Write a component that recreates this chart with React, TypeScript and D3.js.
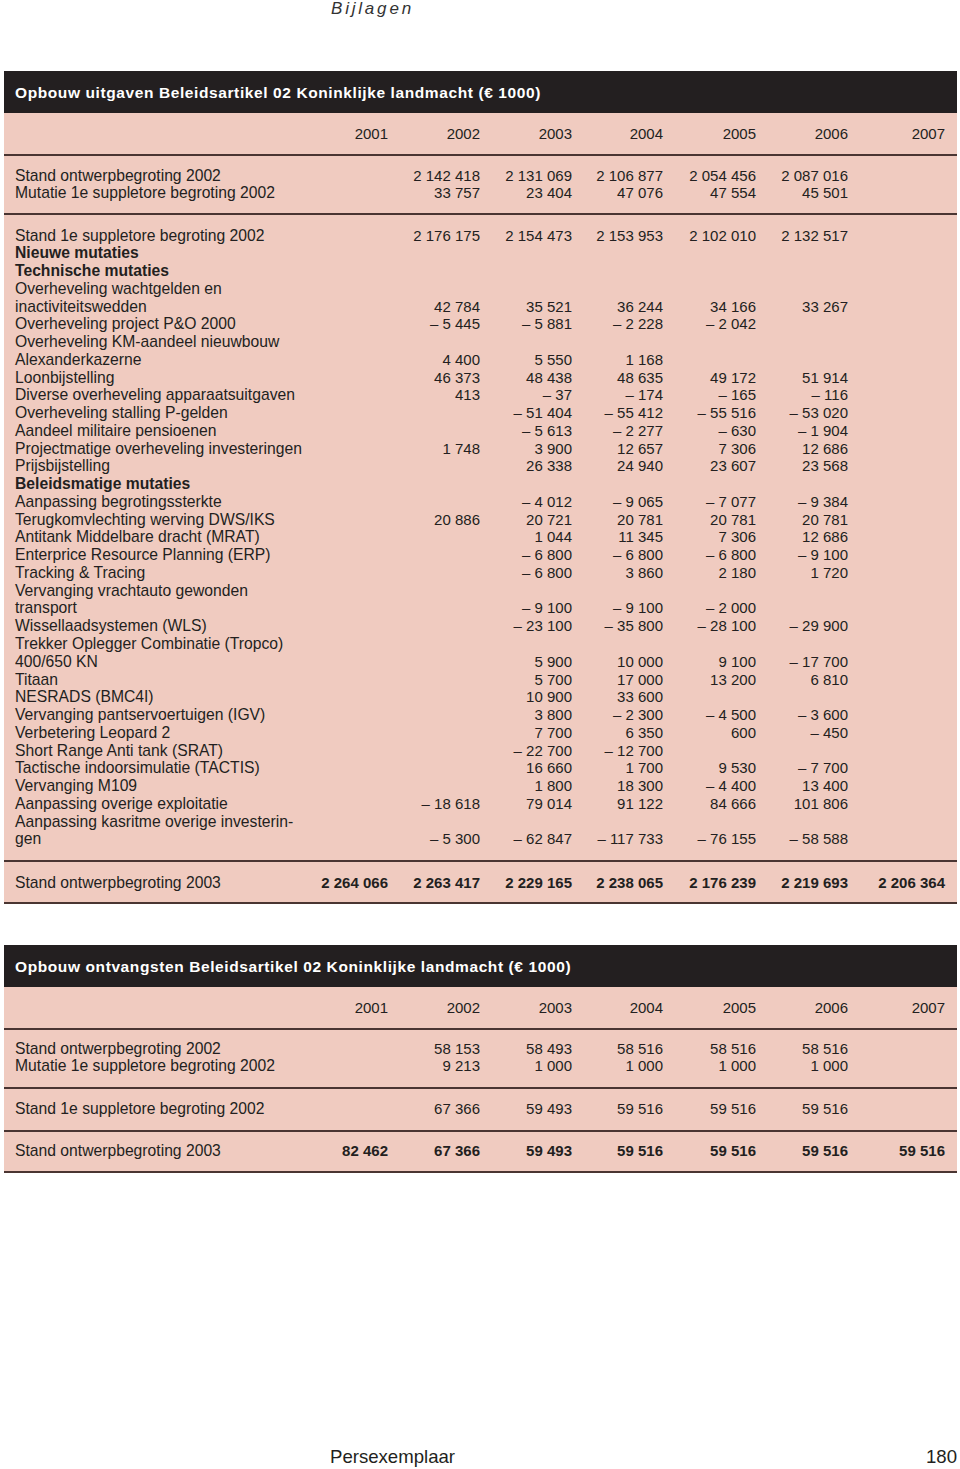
import React, { useRef, useEffect } from 'react';
import * as d3 from 'd3';

const years = ['2001', '2002', '2003', '2004', '2005', '2006', '2007'];

const uitgavenTitle = 'Opbouw uitgaven Beleidsartikel 02 Koninklijke landmacht (€ 1000)';
const ontvangstenTitle = 'Opbouw ontvangsten Beleidsartikel 02 Koninklijke landmacht (€ 1000)';

const uitgavenTopLabels = ['Stand ontwerpbegroting 2002', 'Mutatie 1e suppletore begroting 2002'];
const uitgavenTopValues = [
  [null, 2142418, 2131069, 2106877, 2054456, 2087016, null],
  [null, 33757, 23404, 47076, 47554, 45501, null],
];

const mutatieLabels = [
  'Stand 1e suppletore begroting 2002',
  'Nieuwe mutaties',
  'Technische mutaties',
  'Overheveling wachtgelden en',
  'inactiviteitswedden',
  'Overheveling project P&O 2000',
  'Overheveling KM-aandeel nieuwbouw',
  'Alexanderkazerne',
  'Loonbijstelling',
  'Diverse overheveling apparaatsuitgaven',
  'Overheveling stalling P-gelden',
  'Aandeel militaire pensioenen',
  'Projectmatige overheveling investeringen',
  'Prijsbijstelling',
  'Beleidsmatige mutaties',
  'Aanpassing begrotingssterkte',
  'Terugkomvlechting werving DWS/IKS',
  'Antitank Middelbare dracht (MRAT)',
  'Enterprice Resource Planning (ERP)',
  'Tracking & Tracing',
  'Vervanging vrachtauto gewonden',
  'transport',
  'Wissellaadsystemen (WLS)',
  'Trekker Oplegger Combinatie (Tropco)',
  '400/650 KN',
  'Titaan',
  'NESRADS (BMC4I)',
  'Vervanging pantservoertuigen (IGV)',
  'Verbetering Leopard 2',
  'Short Range Anti tank (SRAT)',
  'Tactische indoorsimulatie (TACTIS)',
  'Vervanging M109',
  'Aanpassing overige exploitatie',
  'Aanpassing kasritme overige investerin-',
  'gen',
];

const mutatieValues = [
  [null, 2176175, 2154473, 2153953, 2102010, 2132517, null],
  [],
  [],
  [],
  [null, 42784, 35521, 36244, 34166, 33267, null],
  [null, -5445, -5881, -2228, -2042, null, null],
  [],
  [null, 4400, 5550, 1168, null, null, null],
  [null, 46373, 48438, 48635, 49172, 51914, null],
  [null, 413, -37, -174, -165, -116, null],
  [null, null, -51404, -55412, -55516, -53020, null],
  [null, null, -5613, -2277, -630, -1904, null],
  [null, 1748, 3900, 12657, 7306, 12686, null],
  [null, null, 26338, 24940, 23607, 23568, null],
  [],
  [null, null, -4012, -9065, -7077, -9384, null],
  [null, 20886, 20721, 20781, 20781, 20781, null],
  [null, null, 1044, 11345, 7306, 12686, null],
  [null, null, -6800, -6800, -6800, -9100, null],
  [null, null, -6800, 3860, 2180, 1720, null],
  [],
  [null, null, -9100, -9100, -2000, null, null],
  [null, null, -23100, -35800, -28100, -29900, null],
  [],
  [null, null, 5900, 10000, 9100, -17700, null],
  [null, null, 5700, 17000, 13200, 6810, null],
  [null, null, 10900, 33600, null, null, null],
  [null, null, 3800, -2300, -4500, -3600, null],
  [null, null, 7700, 6350, 600, -450, null],
  [null, null, -22700, -12700, null, null, null],
  [null, null, 16660, 1700, 9530, -7700, null],
  [null, null, 1800, 18300, -4400, 13400, null],
  [null, -18618, 79014, 91122, 84666, 101806, null],
  [],
  [null, -5300, -62847, -117733, -76155, -58588, null],
];

const boldLabels = ['Nieuwe mutaties', 'Technische mutaties', 'Beleidsmatige mutaties'];

const uitgavenTotalLabel = 'Stand ontwerpbegroting 2003';
const uitgavenTotal = [2264066, 2263417, 2229165, 2238065, 2176239, 2219693, 2206364];

const ontvangstenLabels = [
  'Stand ontwerpbegroting 2002',
  'Mutatie 1e suppletore begroting 2002',
  'Stand 1e suppletore begroting 2002',
  'Stand ontwerpbegroting 2003',
];
const ontvangstenValues = [
  [null, 58153, 58493, 58516, 58516, 58516, null],
  [null, 9213, 1000, 1000, 1000, 1000, null],
  [null, 67366, 59493, 59516, 59516, 59516, null],
  [82462, 67366, 59493, 59516, 59516, 59516, 59516],
];

const W = 960;
const H = 1469;
const LEFT = 4;
const RIGHT = 957;
const PINK = '#f0cbc0';
const DARK = '#231f20';
const RULE = '#4a3532';
const FONT = '"Liberation Sans", Arial, sans-serif';
const STEP = 17.76;
const LABEL_SIZE = 15.7;
const NUM_SIZE = 15;

const fmt = d3.formatLocale({
  decimal: ',',
  thousands: ' ',
  grouping: [3],
  currency: ['€', ''],
  minus: '– ',
}).format(',d');

const App = () => {
  const svgRef = useRef(null);

  useEffect(() => {
    const svg = d3.select(svgRef.current);
    svg.selectAll('*').remove();

    // right edge of each year column
    const x = d3.scaleOrdinal<string, number>()
      .domain(years)
      .range([388, 480, 572, 663, 756, 848, 945]);

    // page header / footer
    svg.append('text')
      .attr('x', 331).attr('y', 8)
      .attr('dominant-baseline', 'central')
      .attr('font-family', FONT).attr('font-style', 'italic')
      .attr('font-size', 17).attr('letter-spacing', 2.8)
      .attr('fill', '#333').text('Bijlagen');

    svg.append('text')
      .attr('x', 330).attr('y', 1456)
      .attr('dominant-baseline', 'central')
      .attr('font-family', FONT).attr('font-size', 18.6)
      .attr('fill', DARK).text('Persexemplaar');

    svg.append('text')
      .attr('x', RIGHT).attr('y', 1456)
      .attr('text-anchor', 'end')
      .attr('dominant-baseline', 'central')
      .attr('font-family', FONT).attr('font-size', 18.6)
      .attr('fill', DARK).text('180');

    const drawTable = (cfg) => {
      const g = svg.append('g');
      // pink body
      g.append('rect')
        .attr('x', LEFT).attr('y', cfg.barTop)
        .attr('width', RIGHT - LEFT).attr('height', cfg.bottom - cfg.barTop)
        .attr('fill', PINK);
      // dark title bar
      g.append('rect')
        .attr('x', LEFT).attr('y', cfg.barTop)
        .attr('width', RIGHT - LEFT).attr('height', cfg.barH)
        .attr('fill', DARK);
      g.append('text')
        .attr('x', 15).attr('y', cfg.barTop + cfg.barH / 2)
        .attr('dominant-baseline', 'central')
        .attr('font-family', FONT).attr('font-weight', 'bold')
        .attr('font-size', 15.5).attr('letter-spacing', 0.6)
        .attr('fill', '#fff').text(cfg.title);

      // year header
      g.selectAll('.year')
        .data(years)
        .join('text')
        .attr('x', (d) => x(d))
        .attr('y', cfg.yearY)
        .attr('text-anchor', 'end')
        .attr('dominant-baseline', 'central')
        .attr('font-family', FONT).attr('font-size', NUM_SIZE)
        .attr('fill', DARK).text((d) => d);

      // rules
      g.selectAll('.rule')
        .data(cfg.rules.concat([cfg.bottom - 1]))
        .join('line')
        .attr('x1', LEFT).attr('x2', RIGHT)
        .attr('y1', (d) => d).attr('y2', (d) => d)
        .attr('stroke', RULE).attr('stroke-width', 2);

      // rows
      cfg.rows.forEach((r) => {
        g.append('text')
          .attr('x', 15).attr('y', r.y)
          .attr('dominant-baseline', 'central')
          .attr('font-family', FONT).attr('font-size', LABEL_SIZE)
          .attr('font-weight', boldLabels.includes(r.label) ? 'bold' : 'normal')
          .attr('fill', DARK).text(r.label);
        const vals = years.map((yr, i) => ({ yr, v: r.values[i] }))
          .filter((d) => d.v !== null && d.v !== undefined);
        g.selectAll(null)
          .data(vals)
          .join('text')
          .attr('x', (d) => x(d.yr))
          .attr('y', r.y)
          .attr('text-anchor', 'end')
          .attr('dominant-baseline', 'central')
          .attr('font-family', FONT).attr('font-size', NUM_SIZE)
          .attr('font-weight', r.bold ? 'bold' : 'normal')
          .attr('fill', DARK).text((d) => fmt(d.v));
      });
    };

    // Uitgaven table
    const rows1 = [];
    uitgavenTopLabels.forEach((l, i) => rows1.push({ label: l, values: uitgavenTopValues[i], y: 175 + i * STEP }));
    mutatieLabels.forEach((l, i) => rows1.push({ label: l, values: mutatieValues[i], y: 235 + i * STEP }));
    rows1.push({ label: uitgavenTotalLabel, values: uitgavenTotal, y: 882, bold: true });

    drawTable({
      title: uitgavenTitle,
      barTop: 71,
      barH: 42,
      yearY: 133,
      rules: [155, 214, 861],
      bottom: 904,
      rows: rows1,
    });

    // Ontvangsten table
    const ys2 = [1048, 1048 + STEP, 1108, 1150];
    const rows2 = ontvangstenLabels.map((l, i) => ({
      label: l, values: ontvangstenValues[i], y: ys2[i], bold: i === 3,
    }));

    drawTable({
      title: ontvangstenTitle,
      barTop: 945,
      barH: 42,
      yearY: 1007,
      rules: [1029, 1088, 1131],
      bottom: 1173,
      rows: rows2,
    });
  }, []);

  return (
    <svg
      ref={svgRef}
      width={W}
      height={H}
      style={{ position: 'absolute', left: 0, top: 0, background: '#fff' }}
    />
  );
};

export default App;
